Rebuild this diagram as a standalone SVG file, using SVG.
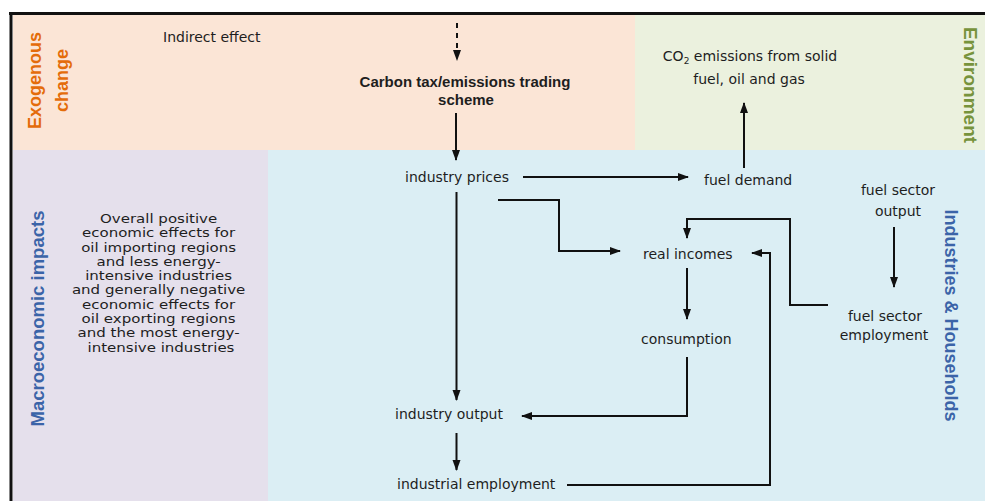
<svg xmlns="http://www.w3.org/2000/svg" width="985" height="501" viewBox="0 0 985 501">
<style>
.t{font-family:"DejaVu Sans",sans-serif;font-size:14px;fill:#1e1e1e}
.p{font-family:"DejaVu Sans",sans-serif;font-size:12px;fill:#1e1e1e;text-anchor:middle}
.m{text-anchor:middle}
.lab{font-family:"Liberation Sans",Arial,sans-serif;font-weight:bold}
.c{fill:none;stroke:#111;stroke-width:2}
</style>
<defs>
<marker id="ah" markerUnits="userSpaceOnUse" markerWidth="11" markerHeight="10" viewBox="0 0 11 10" refX="10" refY="5" orient="auto">
<path d="M0,1 L11,5 L0,9 z" fill="#111"/>
</marker>
</defs>
<rect width="985" height="501" fill="#fff"/>
<g id="regions">
<rect x="13" y="15" width="622" height="135" fill="#fbe5d6"/>
<rect x="635" y="15" width="350" height="135" fill="#ebf1de"/>
<rect x="13" y="150" width="255" height="351" fill="#e5e0ec"/>
<rect x="268" y="150" width="717" height="351" fill="#dbeef4"/>
<path d="M9 13.5 H985 M11 12 V501" stroke="#111" stroke-width="3" fill="none"/>
</g>
<g id="labels">
<text class="lab" font-size="18" fill="#e46c0a" transform="translate(41,80.5) rotate(-90)" text-anchor="middle">Exogenous</text>
<text class="lab" font-size="18" fill="#e46c0a" transform="translate(68,80.5) rotate(-90)" text-anchor="middle">change</text>
<text class="lab" font-size="19" fill="#77933c" transform="translate(964,85) rotate(90)" text-anchor="middle">Environment</text>
<text class="lab" font-size="18.5" fill="#3b64a8" transform="translate(44,318.5) rotate(-90)" text-anchor="middle">Macroeconomic impacts</text>
<text class="lab" font-size="18" fill="#3b64a8" transform="translate(945,315.5) rotate(90)" text-anchor="middle">Industries &amp; Households</text>
</g>
<g id="indirect"><text class="t" font-size="11" x="163" y="42">Indirect effect</text></g>
<g id="carbon"><text class="lab" font-size="15" fill="#1e1e1e" text-anchor="middle"><tspan x="465" y="87">Carbon tax/emissions trading</tspan><tspan x="466" y="105">scheme</tspan></text></g>
<g id="co2"><text class="t m"><tspan x="750" y="61">CO<tspan font-size="9" dy="3">2</tspan><tspan dy="-3"> emissions from solid</tspan></tspan><tspan x="749" y="84">fuel, oil and gas</tspan></text></g>
<g id="macro"><text class="p" transform="translate(161,0) scale(1.25,1)">
<tspan x="0" y="223">Overall positive</tspan>
<tspan x="0" y="237.3">economic effects for</tspan>
<tspan x="0" y="251.6">oil importing regions</tspan>
<tspan x="0" y="265.9">and less energy-</tspan>
<tspan x="0" y="280.2">intensive industries</tspan>
<tspan x="0" y="294.5">and generally negative</tspan>
<tspan x="0" y="308.8">economic effects for</tspan>
<tspan x="0" y="323.1">oil exporting regions</tspan>
<tspan x="0" y="337.4">and the most energy-</tspan>
<tspan x="0" y="351.7">intensive industries</tspan>
</text></g>
<g id="industry-prices"><text class="t" x="405" y="182">industry prices</text></g>
<g id="fuel-demand"><text class="t" x="704" y="185">fuel demand</text></g>
<g id="real-incomes"><text class="t" x="643" y="259">real incomes</text></g>
<g id="consumption"><text class="t" x="641" y="344">consumption</text></g>
<g id="industry-output"><text class="t" x="395" y="419">industry output</text></g>
<g id="industrial-employment"><text class="t" x="397" y="489">industrial employment</text></g>
<g id="fuel-sector-output"><text class="t m"><tspan x="898" y="195">fuel sector</tspan><tspan x="898" y="216">output</tspan></text></g>
<g id="fuel-sector-employment"><text class="t m"><tspan x="885" y="321">fuel sector</tspan><tspan x="884" y="340">employment</tspan></text></g>
<g id="connectors">
<path class="c" d="M457 23 V60" stroke-dasharray="5 5" marker-end="url(#ah)"/>
<path class="c" d="M456 113 V160" marker-end="url(#ah)"/>
<path class="c" d="M523 177 H688" marker-end="url(#ah)"/>
<path class="c" d="M744 168 V103" marker-end="url(#ah)"/>
<path class="c" d="M498 200 H559 V251 H620" marker-end="url(#ah)"/>
<path class="c" d="M456.5 192 V400" stroke-width="1.6" marker-end="url(#ah)"/>
<path class="c" d="M456.5 433 V470" marker-end="url(#ah)"/>
<path class="c" d="M567 485 H770 V253 H752" marker-end="url(#ah)"/>
<path class="c" d="M828 305 H790 V219 H687 V238" marker-end="url(#ah)"/>
<path class="c" d="M687 268 V319" marker-end="url(#ah)"/>
<path class="c" d="M687 357 V416 H522" marker-end="url(#ah)"/>
<path class="c" d="M894 227 V287" stroke-width="1.4" marker-end="url(#ah)"/>
</g>
</svg>
